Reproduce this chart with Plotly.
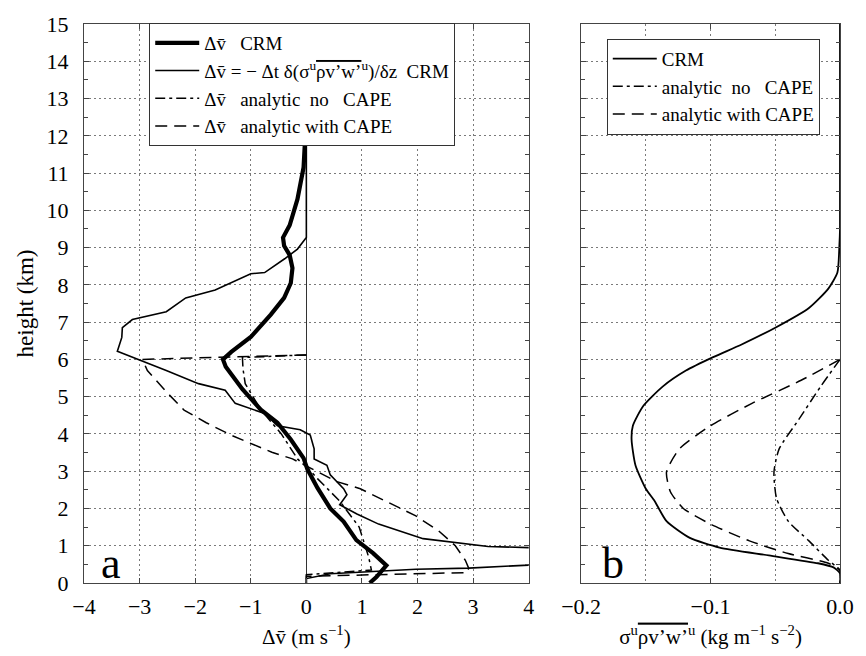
import plotly.graph_objects as go
from plotly.subplots import make_subplots

# ---------------- data ----------------
# Panel a : height (km) and delta v (m/s)
a_crm_z = [15.0, 12.7, 12.0, 11.5, 11.15, 10.3, 9.6, 9.27, 9.05, 8.8, 8.45, 8.05, 7.65, 7.2, 6.6, 6.2, 6.0,
           5.8, 5.2, 4.65, 4.3, 3.85, 3.35, 3.05, 2.55, 2.0, 1.65, 1.15, 0.8, 0.47, 0.16, 0.0]
a_crm_v = [0.0, 0.0, -0.02, -0.04, -0.05, -0.16, -0.3, -0.42, -0.4, -0.3, -0.25, -0.28, -0.4, -0.64, -1.0, -1.35, -1.5,
           -1.45, -1.15, -0.82, -0.52, -0.28, -0.05, 0.02, 0.2, 0.43, 0.67, 0.9, 1.2, 1.44, 1.26, 1.14]

a_flux_z = [15.0, 9.27, 8.96, 8.7, 8.33, 8.3, 7.86, 7.65, 7.28, 7.07, 6.85, 6.59, 6.22, 5.96, 5.7, 5.35, 5.17,
            4.82, 4.64, 4.55, 4.22, 4.11, 3.97, 3.6, 3.33, 3.16, 2.9, 2.53, 2.37, 2.1, 1.85, 1.58, 1.19, 1.08,
            0.98, 0.95, 0.7, 0.48, 0.4, 0.37, 0.34, 0.29, 0.25, 0.12, 0.0]
a_flux_v = [0.0, 0.0, -0.16, -0.39, -0.75, -1.0, -1.64, -2.17, -2.52, -3.13, -3.31, -3.32, -3.4, -2.95, -2.52, -1.94, -1.46,
            -1.28, -0.92, -0.75, -0.52, -0.11, 0.07, 0.14, 0.14, 0.37, 0.43, 0.67, 0.73, 0.6, 0.91, 1.3, 2.1, 2.68,
            3.27, 4.0, 6.0, 4.0, 2.92, 1.97, 1.62, 1.03, 0.43, 0.0, 0.0]

a_nocape_z = [6.12, 6.05, 5.75, 5.35, 4.65, 4.0, 3.33, 3.05, 2.8, 2.2, 1.5, 1.1, 0.7, 0.35, 0.22, 0.0]
a_nocape_v = [0.0, -1.15, -1.14, -1.1, -0.82, -0.45, -0.16, 0.05, 0.2, 0.6, 0.95, 1.03, 1.12, 1.17, 0.0, 0.0]

a_cape_z = [6.12, 6.0, 5.7, 5.1, 4.64, 4.3, 3.95, 3.51, 3.33, 3.1, 2.72, 2.53, 2.06, 1.8, 1.4, 1.0, 0.61, 0.4, 0.28, 0.18, 0.0]
a_cape_v = [0.0, -2.95, -2.86, -2.5, -2.2, -1.8, -1.33, -0.62, -0.25, 0.05, 0.55, 0.97, 1.62, 1.97, 2.38, 2.68, 2.86, 2.92, 2.9, 0.0, 0.0]

# Panel b : height (km) and momentum flux (kg m-1 s-2)
b_crm_z = [15.0, 9.5, 9.04, 8.33, 7.9, 7.38, 6.85, 6.4, 6.06, 5.7, 5.27, 4.75, 4.22, 3.85, 3.16, 2.53, 2.19,
           1.66, 1.21, 0.95, 0.74, 0.53, 0.42, 0.26, 0.0]
b_crm_f = [0.0, 0.0, -0.0005, -0.002, -0.009, -0.024, -0.05, -0.076, -0.098, -0.119, -0.137, -0.152, -0.16, -0.161,
           -0.158, -0.15, -0.143, -0.134, -0.116, -0.093, -0.055, -0.017, -0.005, 0.0, 0.0]

b_cape_z = [6.0, 5.44, 4.82, 4.22, 3.6, 2.98, 2.45, 2.0, 1.58, 1.13, 0.79, 0.53, 0.34, 0.0]
b_cape_f = [0.0, -0.03, -0.068, -0.1, -0.124, -0.134, -0.131, -0.121, -0.1, -0.07, -0.04, -0.009, 0.0, 0.0]

b_nocape_z = [6.0, 5.27, 4.38, 3.6, 2.98, 2.27, 1.66, 1.13, 0.61, 0.34, 0.0]
b_nocape_f = [0.0, -0.015, -0.032, -0.047, -0.051, -0.049, -0.04, -0.024, -0.009, 0.0, 0.0]

a_xticks = [-4, -3, -2, -1, 0, 1, 2, 3, 4]
b_xticks = [-0.2, -0.1, 0.0]
yticks = list(range(0, 16))

# ---------------- figure ----------------
FONT = "Liberation Serif"
NB = "\u00a0"
VBAR = "v\u0304"
flux_txt = '<span style="text-decoration:overline">\u03c1v\u2019w\u2019</span>'

fig = make_subplots(rows=1, cols=2, horizontal_spacing=0.0)

dashdot = "10px,4px,3px,4px"
longdash = "12px,7px"

fig.add_trace(go.Scatter(x=a_crm_v, y=a_crm_z, mode="lines", line=dict(color="black", width=4.2),
                         name="\u0394" + VBAR + NB * 3 + "CRM", legend="legend"), 1, 1)
fig.add_trace(go.Scatter(x=a_flux_v, y=a_flux_z, mode="lines", line=dict(color="black", width=1.6),
                         name="\u0394" + VBAR + " = \u2212 \u0394t \u03b4(\u03c3<sup>u</sup>" + flux_txt + "<sup>u</sup>)/\u03b4z" + NB * 2 + "CRM",
                         legend="legend"), 1, 1)
fig.add_trace(go.Scatter(x=a_nocape_v, y=a_nocape_z, mode="lines", line=dict(color="black", width=1.5, dash=dashdot),
                         name="\u0394" + VBAR + NB * 3 + "analytic" + NB * 2 + "no" + NB * 3 + "CAPE", legend="legend"), 1, 1)
fig.add_trace(go.Scatter(x=a_cape_v, y=a_cape_z, mode="lines", line=dict(color="black", width=1.5, dash=longdash),
                         name="\u0394" + VBAR + NB * 3 + "analytic with CAPE", legend="legend"), 1, 1)

fig.add_trace(go.Scatter(x=b_crm_f, y=b_crm_z, mode="lines", line=dict(color="black", width=1.8, shape="spline", smoothing=0.6),
                         name="CRM", legend="legend2"), 1, 2)
fig.add_trace(go.Scatter(x=b_nocape_f, y=b_nocape_z, mode="lines",
                         line=dict(color="black", width=1.5, dash=dashdot, shape="spline", smoothing=0.6),
                         name="analytic" + NB * 2 + "no" + NB * 3 + "CAPE", legend="legend2"), 1, 2)
fig.add_trace(go.Scatter(x=b_cape_f, y=b_cape_z, mode="lines",
                         line=dict(color="black", width=1.5, dash=longdash, shape="spline", smoothing=0.6),
                         name="analytic with CAPE", legend="legend2"), 1, 2)

W, H = 866, 656
L, R, T, B = 84, 17, 15, 73
pw = W - L - R
ph = H - T - B


def dx(px):
    return (px - L) / pw


def dy(py):
    return (H - B - py) / ph


GRID = "#7a7a7a"
axis_common = dict(showline=True, linecolor="#444", linewidth=1, mirror="ticks", ticks="inside",
                   ticklen=5, tickcolor="#444", showgrid=True, gridcolor=GRID, gridwidth=1,
                   griddash="2px,3px", zeroline=False, tickfont=dict(family=FONT, size=22, color="black"))

fig.update_xaxes(axis_common)
fig.update_yaxes(axis_common)

fig.update_xaxes(ticklabelstandoff=4)
fig.update_yaxes(ticklabelstandoff=10)

fig.update_xaxes(row=1, col=1, domain=[0, dx(534)], range=[-4, 4], tickvals=a_xticks,
                 zeroline=True, zerolinecolor="#333", zerolinewidth=1,
                 title=dict(text="\u0394" + VBAR + " (m s<sup>\u22121</sup>)", font=dict(family=FONT, size=21, color="black"),
                            standoff=10))
fig.update_xaxes(row=1, col=2, domain=[dx(587), 1], range=[-0.2, 0.0], tickvals=b_xticks, tickformat=".1f",
                 minor=dict(dtick=0.05, showgrid=True, gridcolor=GRID, griddash="2px,3px", ticks=""),
                 title=dict(text="\u03c3<sup>u</sup>" + flux_txt + "<sup>u</sup> (kg m<sup>\u22121</sup> s<sup>\u22122</sup>)",
                            font=dict(family=FONT, size=21, color="black"), standoff=10))
fig.update_yaxes(row=1, col=1, range=[0, 15], tickvals=yticks,
                 minor=dict(dtick=0.5, ticks="inside", ticklen=4, tickcolor="#444", showgrid=False),
                 title=dict(text="height (km)", font=dict(family=FONT, size=23, color="black"), standoff=6))
fig.update_yaxes(row=1, col=2, range=[0, 15], tickvals=yticks, showticklabels=False,
                 minor=dict(dtick=0.5, ticks="inside", ticklen=4, tickcolor="#444", showgrid=False))

fig.update_layout(
    width=W, height=H,
    margin=dict(l=L, r=R, t=T, b=B),
    paper_bgcolor="white", plot_bgcolor="white",
    font=dict(family=FONT, size=19, color="black"),
    legend=dict(x=dx(150), y=dy(14), xanchor="left", yanchor="top", bgcolor="white",
                bordercolor="#333", borderwidth=1, font=dict(family=FONT, size=19, color="black"),
                tracegroupgap=0, itemwidth=44),
    legend2=dict(x=dx(613), y=dy(30), xanchor="left", yanchor="top", bgcolor="white",
                 bordercolor="#333", borderwidth=1, font=dict(family=FONT, size=19, color="black"),
                 tracegroupgap=0, itemwidth=44),
    annotations=[
        dict(text="a", xref="paper", yref="paper", x=dx(111), y=dy(590), xanchor="center", yanchor="bottom",
             showarrow=False, font=dict(family=FONT, size=44, color="black")),
        dict(text="b", xref="paper", yref="paper", x=dx(619), y=dy(590), xanchor="center", yanchor="bottom",
             showarrow=False, font=dict(family=FONT, size=44, color="black")),
    ],
)

fig.write_html("out.html")
